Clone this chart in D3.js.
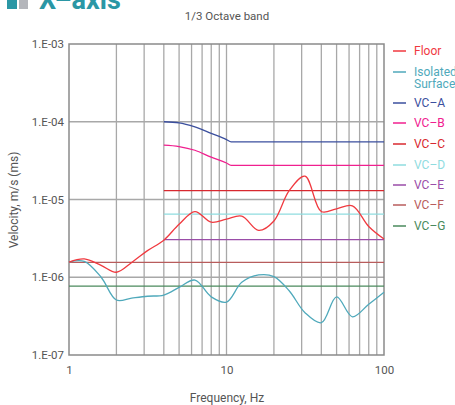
<!DOCTYPE html>
<html>
<head>
<meta charset="utf-8">
<script src="https://cdn.jsdelivr.net/npm/d3@7"></script>
<style>
  body { margin: 0; background: #fff; }
  svg text { font-family: "Roboto", "Noto Sans", sans-serif; }
</style>
</head>
<body>
<div id="plot"></div>
<script>
// 1/3 octave band centre frequencies
var freqs = [1, 1.25, 1.6, 2, 2.5, 3.15, 4, 5, 6.3, 8, 10, 12.5, 16, 20, 25, 31.5, 40, 50, 63, 80, 100];
var floor_vals = [1.57e-6, 1.72e-6, 1.42e-6, 1.16e-6, 1.55e-6, 2.2e-6, 3.0e-6, 4.8e-6, 7.0e-6, 5.1e-6,
                  5.6e-6, 6.1e-6, 4.0e-6, 5.3e-6, 1.3e-5, 2.0e-5, 7.0e-6, 7.6e-6, 8.3e-6, 4.5e-6, 3.1e-6];
var isolated_vals = [1.57e-6, 1.6e-6, 1.0e-6, 5.1e-7, 5.4e-7, 5.7e-7, 5.9e-7, 7.4e-7, 9.2e-7, 5.6e-7,
                     4.8e-7, 8.6e-7, 1.07e-6, 1.02e-6, 6.7e-7, 3.5e-7, 2.6e-7, 5.6e-7, 3.1e-7, 4.5e-7, 6.4e-7];

// VC criteria curves
var vc_a_f = [4, 5, 6.3, 8, 10, 10.7, 100];
var vc_a_v = [1.0e-4, 9.7e-5, 8.6e-5, 7.1e-5, 5.9e-5, 5.5e-5, 5.5e-5];
var vc_b_f = [4, 5, 6.3, 8, 10, 10.7, 100];
var vc_b_v = [5.0e-5, 4.8e-5, 4.3e-5, 3.5e-5, 2.95e-5, 2.75e-5, 2.75e-5];
// flat criteria: [from Hz, to Hz, velocity]
var vc_c = [4, 100, 1.3e-5];
var vc_d = [4, 100, 6.5e-6];
var vc_e = [4, 100, 3.05e-6];
var vc_f = [1, 100, 1.55e-6];
var vc_g = [1, 100, 7.7e-7];

var legend_names = ["Floor", "Isolated\nSurface", "VC\u2013A", "VC\u2013B", "VC\u2013C", "VC\u2013D", "VC\u2013E", "VC\u2013F", "VC\u2013G"];
var legend_colors = ["#f0393f", "#4fa9bb", "#3b4f9e", "#f0208f", "#d8282f", "#8fdcdf", "#9a4da8", "#b85c5c", "#4a8a5c"];

var y_ticks = [1e-3, 1e-4, 1e-5, 1e-6, 1e-7];
var y_tick_labels = ["1.E-03", "1.E-04", "1.E-05", "1.E-06", "1.E-07"];
var x_ticks = [1, 10, 100];

var width = 455, height = 405;
var m_left = 69, m_right = 384, m_top = 44, m_bottom = 355;

var svg = d3.select("div#plot")
    .append("svg")
        .attr("width", width)
        .attr("height", height);

var x_scale = d3.scaleLog().domain([1, 100]).range([m_left, m_right]);
var y_scale = d3.scaleLog().domain([1e-7, 1e-3]).range([m_bottom, m_top]);

// Title (cut off at the top)
svg.append("rect").attr("x", 7).attr("y", -2).attr("width", 10).attr("height", 11).attr("fill", "#2b97a5");
svg.append("rect").attr("x", 19).attr("y", -2).attr("width", 9).attr("height", 11).attr("fill", "#b4b6bb");
svg.append("text")
    .attr("x", 39).attr("y", 9)
    .attr("font-size", 27).attr("font-weight", "bold")
    .attr("fill", "#2b97a5")
    .text("X\u2013axis");

svg.append("text")
    .attr("x", 227).attr("y", 20)
    .attr("text-anchor", "middle")
    .attr("font-size", 11.5).attr("fill", "#555")
    .text("1/3 Octave band");

// Grid
var grid = svg.append("g");
var minor = [];
[1, 10].forEach(function(d) {
    for (var i = 2; i <= 9; i++) minor.push(d * i);
});
minor.push(10);
grid.selectAll("line.v")
    .data(minor)
    .join("line")
        .attr("x1", function(d) { return x_scale(d); })
        .attr("x2", function(d) { return x_scale(d); })
        .attr("y1", m_top).attr("y2", m_bottom)
        .attr("stroke", "#a8a8a8").attr("stroke-width", 1.3);
grid.selectAll("line.h")
    .data([1e-4, 1e-5, 1e-6])
    .join("line")
        .attr("x1", m_left).attr("x2", m_right)
        .attr("y1", function(d) { return y_scale(d); })
        .attr("y2", function(d) { return y_scale(d); })
        .attr("stroke", "#a8a8a8").attr("stroke-width", 1.3);

// Y axis labels
var y_axis = d3.axisLeft(y_scale)
    .tickValues(y_ticks)
    .tickFormat(function(d, i) { return y_tick_labels[i]; })
    .tickSize(0).tickPadding(5);
svg.append("g")
    .attr("transform", "translate(" + m_left + ",0)")
    .call(y_axis)
    .call(function(g) {
        g.select(".domain").remove();
        g.selectAll("text").attr("font-size", 11.5).attr("fill", "#555")
            .attr("font-family", "Roboto, sans-serif");
    });

var x_axis = d3.axisBottom(x_scale)
    .tickValues(x_ticks)
    .tickFormat(d3.format("d"))
    .tickSize(0).tickPadding(11);
svg.append("g")
    .attr("transform", "translate(0," + m_bottom + ")")
    .call(x_axis)
    .call(function(g) {
        g.select(".domain").remove();
        g.selectAll("text").attr("font-size", 11.5).attr("fill", "#555")
            .attr("font-family", "Roboto, sans-serif");
    });

svg.append("text")
    .attr("x", 227).attr("y", 402)
    .attr("text-anchor", "middle")
    .attr("font-size", 12).attr("fill", "#555")
    .text("Frequency, Hz");

svg.append("text")
    .attr("transform", "translate(18,200) rotate(-90)")
    .attr("text-anchor", "middle")
    .attr("font-size", 12).attr("fill", "#555")
    .text("Velocity, m/s (ms)");

// Plot frame
svg.append("rect")
    .attr("x", m_left).attr("y", m_top)
    .attr("width", m_right - m_left).attr("height", m_bottom - m_top)
    .attr("fill", "none").attr("stroke", "#8a8a8a").attr("stroke-width", 1.5);

// Series
var smooth = d3.line()
    .x(function(d) { return x_scale(d[0]); })
    .y(function(d) { return y_scale(d[1]); })
    .curve(d3.curveCatmullRom.alpha(0.5));
var mono = d3.line()
    .x(function(d) { return x_scale(d[0]); })
    .y(function(d) { return y_scale(d[1]); })
    .curve(d3.curveMonotoneX);
var straight = d3.line()
    .x(function(d) { return x_scale(d[0]); })
    .y(function(d) { return y_scale(d[1]); });
var flat = function(s) { return [[s[0], s[2]], [s[1], s[2]]]; };

var series = [
    { pts: flat(vc_g), color: legend_colors[8], line: straight },
    { pts: flat(vc_f), color: legend_colors[7], line: straight },
    { pts: flat(vc_e), color: legend_colors[6], line: straight },
    { pts: flat(vc_d), color: legend_colors[5], line: straight },
    { pts: flat(vc_c), color: legend_colors[4], line: straight },
    { pts: d3.zip(vc_b_f, vc_b_v), color: legend_colors[3], line: mono },
    { pts: d3.zip(vc_a_f, vc_a_v), color: legend_colors[2], line: mono },
    { pts: d3.zip(freqs, isolated_vals), color: legend_colors[1], line: smooth },
    { pts: d3.zip(freqs, floor_vals), color: legend_colors[0], line: smooth }
];

svg.append("g")
    .selectAll("path")
    .data(series)
    .join("path")
        .attr("d", function(d) { return d.line(d.pts); })
        .attr("fill", "none")
        .attr("stroke", function(d) { return d.color; })
        .attr("stroke-width", 1.3);

// Legend
var ly = [51, 72, 103, 123, 144, 165, 185, 205, 226];
var legend = svg.append("g")
    .selectAll("g")
    .data(legend_names)
    .join("g")
        .attr("transform", function(d, i) { return "translate(393," + ly[i] + ")"; });
legend.append("line")
    .attr("x1", 0).attr("x2", 13)
    .attr("stroke", function(d, i) { return legend_colors[i]; })
    .attr("stroke-width", 1.5);
legend.append("text")
    .attr("x", 21).attr("y", 4)
    .attr("font-size", 12)
    .attr("fill", function(d, i) { return legend_colors[i]; })
    .selectAll("tspan")
    .data(function(d) { return d.split("\n"); })
    .join("tspan")
        .attr("x", 21)
        .attr("dy", function(d, i) { return i ? 12 : 0; })
        .text(function(d) { return d; });
</script>
</body>
</html>
